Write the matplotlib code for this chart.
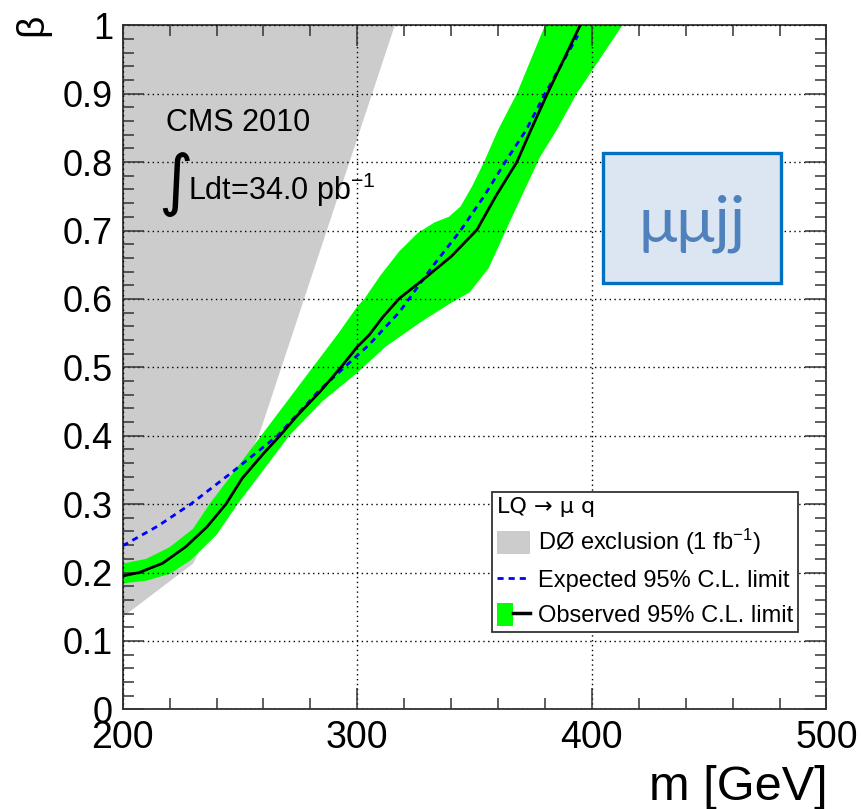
import numpy as np
import matplotlib
matplotlib.use("Agg")
from matplotlib import pyplot as plt
from matplotlib.patches import Patch, Rectangle
from matplotlib.lines import Line2D
from matplotlib.legend_handler import HandlerTuple
from matplotlib.ticker import MultipleLocator

plt.rcParams['font.family'] = ['Liberation Sans', 'DejaVu Sans']
plt.rcParams['mathtext.default'] = 'regular'

# observed 95% CL limit on beta vs LQ mass
obs_m = [200, 207, 217, 227, 236, 244, 251, 260, 267, 274, 284, 293, 300, 305,
         311, 318, 328, 340, 351, 359, 368, 374, 381, 395, 400]
obs_b = [0.195, 0.200, 0.2135, 0.238, 0.267, 0.300, 0.338, 0.374, 0.400, 0.428,
         0.464, 0.500, 0.530, 0.547, 0.574, 0.601, 0.628, 0.662, 0.701, 0.750,
         0.800, 0.847, 0.900, 1.000, 1.040]

# expected limit
exp_m = [200, 215, 229, 246, 266, 284, 298, 305, 318, 332, 344, 354, 363, 372, 380, 394]
exp_b = [0.239, 0.268, 0.300, 0.345, 0.400, 0.467, 0.511, 0.533, 0.581, 0.647, 0.700,
         0.750, 0.800, 0.847, 0.900, 0.985]

# +-1 sigma band around the observed limit
band_up_m = [200, 210, 220, 230, 237, 248, 259, 270, 281, 292, 300, 303, 310, 318,
             326, 333, 339, 344, 349, 354, 360, 368, 380, 386]
band_up_b = [0.213, 0.220, 0.237, 0.264, 0.300, 0.350, 0.400, 0.450, 0.500, 0.550,
             0.589, 0.600, 0.635, 0.670, 0.697, 0.712, 0.720, 0.735, 0.765, 0.800,
             0.847, 0.900, 1.000, 1.050]
band_lo_m = [200, 210, 220, 229, 240, 249, 260, 271, 285, 300, 312, 327, 338, 348,
             356, 362, 368, 378, 385, 393.5, 413, 420]
band_lo_b = [0.184, 0.188, 0.198, 0.218, 0.255, 0.300, 0.350, 0.400, 0.450, 0.492,
             0.530, 0.566, 0.590, 0.610, 0.645, 0.690, 0.735, 0.808, 0.847, 0.900,
             1.000, 1.040]

# D0 exclusion region (1 fb-1)
d0_m = [200, 230, 258, 316, 200]
d0_b = [0.135, 0.213, 0.400, 1.000, 1.000]

W, H = 861, 809


def fpos(x, y):
    return x / W, 1 - y / H


fig = plt.figure(figsize=(W / 100, H / 100), dpi=100)
ax = fig.add_axes([0.1425, 0.1232, 0.8174, 0.8455])

ax.fill(d0_m, d0_b, color='#cccccc', lw=0, zorder=0.5)
band_x = np.concatenate([band_up_m, band_lo_m[::-1]])
band_y = np.concatenate([band_up_b, band_lo_b[::-1]])
ax.fill(band_x, band_y, color='#00ff00', lw=0, zorder=0.6)
ax.plot(exp_m, exp_b, color='#0000ff', lw=2, ls=(0, (2.2, 1.8)), zorder=3)
ax.plot(obs_m, obs_b, color='black', lw=2, zorder=3.1)

ax.set_xlim(200, 500)
ax.set_ylim(0, 1)
ax.xaxis.set_major_locator(MultipleLocator(100))
ax.xaxis.set_minor_locator(MultipleLocator(20))
ax.yaxis.set_major_locator(MultipleLocator(0.1))
ax.yaxis.set_minor_locator(MultipleLocator(0.02))
ax.yaxis.set_major_formatter(plt.FuncFormatter(lambda v, p: f"{v:g}"))
ax.tick_params(which='both', direction='in', top=True, right=True,
               color='#333333', width=1.1)
ax.tick_params(which='major', length=15)
ax.tick_params(which='minor', length=8)
ax.tick_params(axis='x', which='major', labelsize=27, pad=8)
ax.tick_params(axis='y', which='major', labelsize=26, pad=7)
for s in ax.spines.values():
    s.set_color('#333333')
    s.set_linewidth(1.3)
ax.set_axisbelow(False)
ax.grid(True, which='major', color='black', ls=(0, (1, 2.5)), lw=1.0)

# legend
h_d0 = Patch(facecolor='#cccccc', edgecolor='none')
h_exp = Line2D([], [], color='#0000ff', lw=2, ls=(0, (2.2, 1.8)))
h_obs = (Patch(facecolor='#00ff00', edgecolor='none'),
         Line2D([], [], color='black', lw=2.5))
leg = ax.legend([h_d0, h_exp, h_obs],
                ['DØ exclusion (1 fb$^{-1}$)', 'Expected 95% C.L. limit',
                 'Observed 95% C.L. limit'],
                handler_map={tuple: HandlerTuple(ndivide=None, pad=0)},
                title='LQ → μ q', alignment='left', loc='upper left',
                bbox_to_anchor=(0.525, 0.318), fontsize=17, title_fontsize=16,
                fancybox=False, framealpha=1, edgecolor='#333333',
                handlelength=1.4, handleheight=1.1, handletextpad=0.35,
                labelspacing=0.45, borderpad=0.2, borderaxespad=0)
leg.get_title().set_family('DejaVu Sans')
leg.get_frame().set_linewidth(1.3)
leg.set_zorder(5)

# experiment labels
fig.text(*fpos(166, 131), 'CMS 2010', fontsize=22, va='baseline', ha='left')
fig.text(*fpos(176, 184), '∫', fontsize=48, family='DejaVu Sans',
         va='center', ha='center')
fig.text(*fpos(188, 200), 'Ldt=34.0 pb$^{-1}$', fontsize=22, va='baseline', ha='left')

# channel box
fig.patches.append(Rectangle(fpos(603, 283), 178 / W, 130 / H,
                             transform=fig.transFigure, facecolor='#dce6f2',
                             edgecolor='#0070c0', lw=2.4, zorder=6))
fig.text(*fpos(692, 224), 'μμjj', fontsize=46, family='Lato', color='#4f81bd',
         ha='center', va='center', zorder=7)

fig.text(*fpos(828, 800), 'm [GeV]', fontsize=35, ha='right', va='baseline')
fig.text(*fpos(32, 25), 'β', fontsize=28, rotation=90, ha='center', va='center')

fig.savefig('out.png', dpi=100)
